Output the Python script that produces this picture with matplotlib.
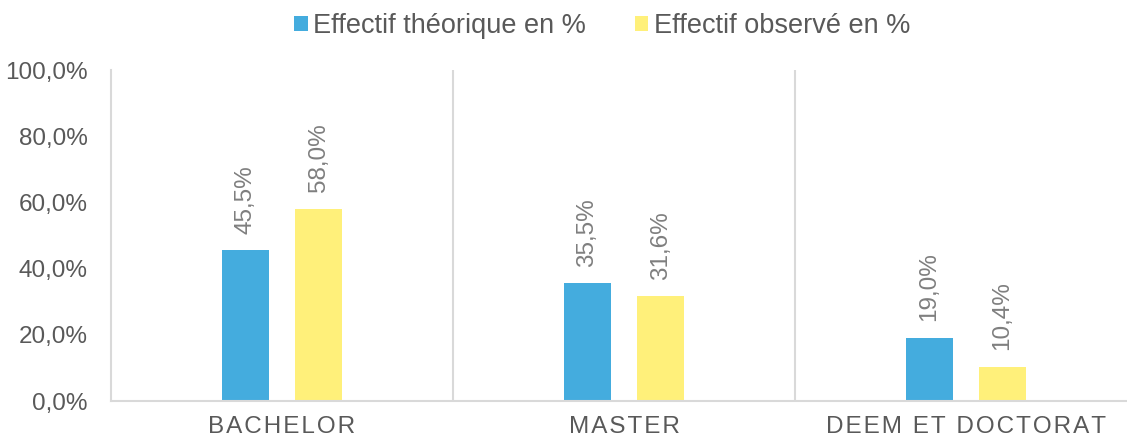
import matplotlib.pyplot as plt
import numpy as np

# Données
categories = ['BACHELOR', 'MASTER', 'DEEM ET DOCTORAT']
theorique = [45.5, 35.5, 19.0]
observe = [58.0, 31.6, 10.4]
series_noms = ['Effectif théorique en %', 'Effectif observé en %']
yticks = [0, 20, 40, 60, 80, 100]

bleu = '#44ACDE'
jaune = '#FFF07A'
gris = '#595959'
gris_clair = '#7F7F7F'
ligne = '#D9D9D9'

plt.rcParams['font.family'] = ['Liberation Sans', 'DejaVu Sans']

fig = plt.figure(figsize=(11.27, 4.4), dpi=100)
ax = fig.add_axes([111 / 1127, 39 / 440, 1026 / 1127, 331 / 440])

x = np.arange(len(categories))
larg = 0.137
dec = 0.107
b1 = ax.bar(x - dec, theorique, larg, color=bleu, label=series_noms[0])
b2 = ax.bar(x + dec, observe, larg, color=jaune, label=series_noms[1])

# Étiquettes de valeurs
for barres, vals in [(b1, theorique), (b2, observe)]:
    for b, v in zip(barres, vals):
        ax.annotate(f'{v:.1f}%'.replace('.', ','),
                    (b.get_x() + b.get_width() / 2, v),
                    xytext=(0, 12), textcoords='offset points',
                    rotation=90, ha='center', va='bottom',
                    fontsize=17.5, color=gris_clair)

ax.set_xlim(-0.5, len(categories) - 0.5)
ax.set_ylim(0, 100)
ax.set_yticks(yticks)
ax.set_yticklabels([f'{t:.1f}%'.replace('.', ',') for t in yticks])
ax.set_xticks(x)
ax.set_xticklabels(['\u200a'.join(c) for c in categories])
ax.tick_params(axis='both', length=0, labelsize=17.5, colors=gris)
ax.tick_params(axis='y', pad=17)
ax.tick_params(axis='x', pad=11)

for s in ['top', 'right']:
    ax.spines[s].set_visible(False)
for s in ['left', 'bottom']:
    ax.spines[s].set_color(ligne)
    ax.spines[s].set_linewidth(1.5)

# Séparateurs entre catégories
for sep in x[:-1] + 0.5:
    ax.axvline(sep, color=ligne, linewidth=1.5, zorder=0)

fig.legend(loc='center', bbox_to_anchor=(602 / 1127, 1 - 26 / 440),
           ncol=2, frameon=False, fontsize=19.5, labelcolor=gris,
           handlelength=0.5, handleheight=0.5, handletextpad=0.2,
           columnspacing=1.8)

fig.savefig('out.png', dpi=100)
